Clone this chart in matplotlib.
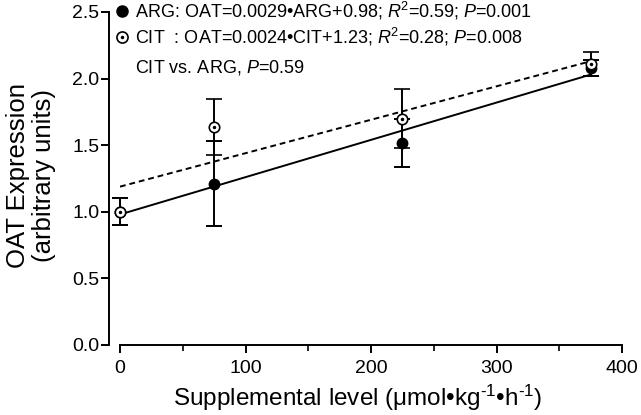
import numpy as np
import matplotlib
matplotlib.use('Agg')
import matplotlib.pyplot as plt
from matplotlib.lines import Line2D

plt.rcParams['font.family'] = ['Liberation Sans', 'DejaVu Sans']
plt.rcParams['mathtext.fontset'] = 'custom'
plt.rcParams['mathtext.rm'] = 'Liberation Sans'
plt.rcParams['mathtext.it'] = 'Liberation Sans:italic'

# Daten
level = [0, 75, 225, 375]
arg_mean = [1.00, 1.21, 1.52, 2.08]
arg_sem = [0.10, 0.32, 0.18, 0.06]
cit_mean = [1.00, 1.64, 1.70, 2.11]
cit_sem = [0.10, 0.21, 0.22, 0.09]

arg_label = r'ARG: OAT=0.0029•ARG+0.98; $R$$^2$=0.59; $P$=0.001'
cit_label = r'CIT  : OAT=0.0024•CIT+1.23; $R$$^2$=0.28; $P$=0.008'
vs_label = r'CIT vs. ARG, $P$=0.59'

fig = plt.figure(figsize=(6.41, 4.15), dpi=100)
ax = fig.add_axes([0.1872, 0.1687, 0.7832, 0.8024])

x = np.array(level, dtype=float)
xs = np.linspace(0, 375, 50)

# Regressionsgeraden aus den Mittelwerten
k_arg, d_arg = np.polyfit(x, arg_mean, 1)
k_cit, d_cit = np.polyfit(x, cit_mean, 1)
ax.plot(xs, k_arg * xs + d_arg, color='black', lw=1.4, zorder=2)
ax.plot(xs, k_cit * xs + d_cit, color='black', lw=1.4, ls=(0, (3, 2)), zorder=2)

eb1 = ax.errorbar(x, arg_mean, yerr=arg_sem, fmt='o', color='black', ms=7.5,
                  capsize=5.5, elinewidth=1.4, capthick=1.4, zorder=3)
eb2 = ax.errorbar(x, cit_mean, yerr=cit_sem, fmt='o', color='black', mfc='white',
                  mec='black', mew=1.2, ms=7.5, capsize=5.5, elinewidth=1.4,
                  capthick=1.4, zorder=4)
dots = ax.plot(x, cit_mean, '.', color='black', ms=3, zorder=5)
# Punkte bei x=0 nicht abschneiden
for eb in (eb1, eb2):
    for a in eb.get_children():
        a.set_clip_on(False)
for d in dots:
    d.set_clip_on(False)

ax.set_xlim(0, 400)
ax.set_ylim(0, 2.5)
ax.set_xticks([0, 100, 200, 300, 400])
ax.set_xticks([50, 150, 250, 350], minor=True)
ax.set_yticks([0, 0.5, 1.0, 1.5, 2.0, 2.5])
ax.set_yticklabels(['0.0', '0.5', '1.0', '1.5', '2.0', '2.5'])

for s in ['top', 'right']:
    ax.spines[s].set_visible(False)
ax.spines['left'].set_position(('outward', 8))
ax.spines['left'].set_linewidth(1.4)
ax.spines['bottom'].set_linewidth(1.4)
ax.tick_params(axis='both', which='major', labelsize=14, width=1.4, length=6, direction='out')
ax.tick_params(axis='y', pad=1)
ax.tick_params(axis='x', pad=5)
ax.tick_params(axis='x', which='minor', width=1.2, length=4, direction='out')

ax.set_xlabel('Supplemental level (μmol•kg$^{\u20101}$•h$^{\u20101}$)', fontsize=17.5)
ax.xaxis.set_label_coords(0.474, -0.113)
ax.set_ylabel('OAT Expression\n(arbitrary units)', fontsize=18.5, linespacing=1.1)
ax.yaxis.set_label_coords(-0.128, 0.51)

h_arg = Line2D([], [], marker='o', color='black', ls='none', ms=8)
h_cit_o = Line2D([], [], marker='o', color='black', mfc='white', mew=1.2, ls='none', ms=8)
h_cit_d = Line2D([], [], marker='.', color='black', ls='none', ms=3)
leg = ax.legend([h_arg, (h_cit_o, h_cit_d)], [arg_label, cit_label],
                loc='upper left', bbox_to_anchor=(-0.01, 1.036), frameon=False,
                fontsize=13, handlelength=0.8, handletextpad=0.3,
                labelspacing=0.2, borderaxespad=0, borderpad=0)
ax.text(0.03, 0.832, vs_label, transform=ax.transAxes, fontsize=13, va='center')

fig.savefig('out.png', dpi=100)
